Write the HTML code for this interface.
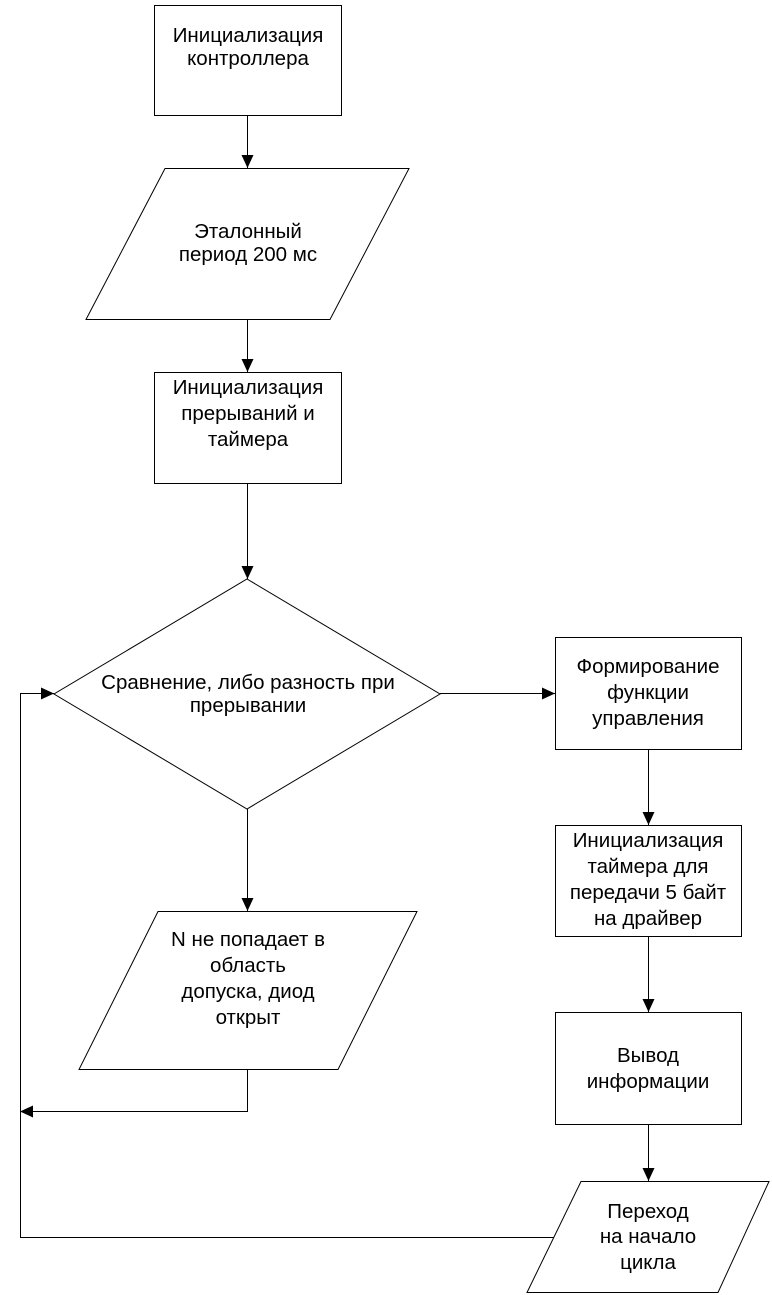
<!DOCTYPE html>
<html><head><meta charset="utf-8"><style>html,body{margin:0;padding:0;background:#fff}svg{display:block}</style></head>
<body>
<svg width="772" height="1295" xmlns="http://www.w3.org/2000/svg" font-family="Liberation Sans, sans-serif" font-size="20.5" text-anchor="middle" fill="#000">
<defs><marker id="a" markerWidth="14" markerHeight="14" refX="13" refY="6" orient="auto" markerUnits="userSpaceOnUse"><path d="M0,0 L13,6 L0,12 z" fill="#000"/></marker></defs>
<g fill="none" stroke="#000" stroke-width="1">
<rect x="154.5" y="5.5" width="187" height="110"/>
<polygon points="165,168.5 409,168.5 330,319.5 86,319.5"/>
<rect x="154.5" y="372.5" width="187" height="111"/>
<polygon points="247,579 440,694 247,809 54,694"/>
<rect x="555.5" y="637.5" width="186" height="112"/>
<rect x="555.5" y="825.5" width="186" height="111"/>
<polygon points="158,911.5 417,911.5 338,1069.5 79,1069.5"/>
<rect x="555.5" y="1012.5" width="186" height="112"/>
<polygon points="581,1181.5 769,1181.5 718,1292.5 527,1292.5"/>
<line x1="247.5" y1="115" x2="247.5" y2="168" marker-end="url(#a)"/>
<line x1="247.5" y1="319" x2="247.5" y2="372" marker-end="url(#a)"/>
<line x1="247.5" y1="483" x2="247.5" y2="579" marker-end="url(#a)"/>
<line x1="440" y1="693.5" x2="555" y2="693.5" marker-end="url(#a)"/>
<line x1="648.5" y1="749" x2="648.5" y2="825" marker-end="url(#a)"/>
<line x1="648.5" y1="936" x2="648.5" y2="1012" marker-end="url(#a)"/>
<line x1="648.5" y1="1124" x2="648.5" y2="1181" marker-end="url(#a)"/>
<line x1="247.5" y1="809" x2="247.5" y2="911" marker-end="url(#a)"/>
<polyline points="247.5,1069 247.5,1111.5 20,1111.5" marker-end="url(#a)"/>
<polyline points="554,1237.5 20.5,1237.5 20.5,693.5 54,693.5" marker-end="url(#a)"/>
</g>
<text x="248" y="42">Инициализация</text><text x="248" y="65">контроллера</text>
<text x="248" y="238">Эталонный</text><text x="248" y="261">период 200 мс</text>
<text x="248" y="394">Инициализация</text><text x="248" y="420">прерываний и</text><text x="248" y="446">таймера</text>
<text x="248" y="689">Сравнение, либо разность при</text><text x="248" y="712">прерывании</text>
<text x="648" y="673">Формирование</text><text x="648" y="699">функции</text><text x="648" y="725">управления</text>
<text x="648" y="847">Инициализация</text><text x="648" y="873">таймера для</text><text x="648" y="899">передачи 5 байт</text><text x="648" y="925">на драйвер</text>
<text x="248" y="946">N не попадает в</text><text x="248" y="972">область</text><text x="248" y="998">допуска, диод</text><text x="248" y="1024">открыт</text>
<text x="648" y="1062">Вывод</text><text x="648" y="1088">информации</text>
<text x="648" y="1218">Переход</text><text x="648" y="1243">на начало</text><text x="648" y="1269">цикла</text>
</svg>
</body></html>
